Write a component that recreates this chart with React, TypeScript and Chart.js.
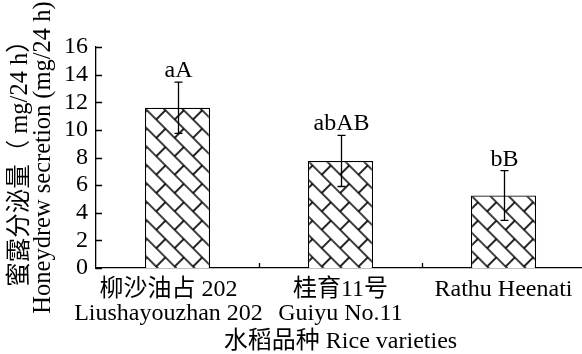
import React, { useEffect, useRef } from "react";
import { Chart, registerables } from "chart.js";

Chart.register(...registerables);

// ---- data ----
const categories: string[][] = [
  ["柳沙油占 202   ", "Liushayouzhan 202   "],
  ["桂育11号", "Guiyu No.11"],
  ["Rathu Heenati"],
];
const means: number[] = [11.6, 7.75, 5.25];
const errors: number[] = [1.85, 1.85, 1.8];
const letters: string[] = ["aA", "abAB", "bB"];
const yMin = 0;
const yMax = 16;
const yStep = 2;
const yTitle: string[] = ["蜜露分泌量（ mg/24 h）", "Honeydrew secretion (mg/24 h)"];
const xTitle = "水稻品种 Rice varieties";

const FONT = "'Liberation Serif', 'Times New Roman', 'Noto Sans CJK SC', serif";
const FS = 24;

function makePattern(ctx: CanvasRenderingContext2D): CanvasPattern | string {
  const L = 26;
  const H = 13;
  const tile = document.createElement("canvas");
  tile.width = L;
  tile.height = 2 * H;
  const t = tile.getContext("2d")!;
  t.fillStyle = "#fff";
  t.fillRect(0, 0, L, 2 * H);
  t.strokeStyle = "#000";
  t.lineWidth = 1.7;
  t.beginPath();
  // mortar lines
  t.moveTo(0, 0); t.lineTo(L, 0);
  t.moveTo(0, H); t.lineTo(L, H);
  t.moveTo(0, 2 * H); t.lineTo(L, 2 * H);
  // brick ends
  t.moveTo(0, 0); t.lineTo(0, H);
  t.moveTo(L, 0); t.lineTo(L, H);
  t.moveTo(L / 2, H); t.lineTo(L / 2, 2 * H);
  t.stroke();
  const p = ctx.createPattern(tile, "repeat");
  if (!p) return "#fff";
  try {
    p.setTransform(new DOMMatrix().rotate(45));
  } catch (e) {}
  return p;
}

const decorPlugin = {
  id: "decor",
  afterDatasetsDraw(chart: any) {
    const ctx = chart.ctx;
    const ys = chart.scales.y;
    const xs = chart.scales.x;
    const meta = chart.getDatasetMeta(0);
    ctx.save();
    ctx.strokeStyle = "#000";
    ctx.fillStyle = "#000";
    ctx.lineWidth = 1.3;
    meta.data.forEach((bar: any, i: number) => {
      const x = Math.round(bar.x) + 0.5;
      const top = ys.getPixelForValue(means[i] + errors[i]);
      const bot = ys.getPixelForValue(means[i] - errors[i]);
      ctx.beginPath();
      ctx.moveTo(x, top);
      ctx.lineTo(x, bot);
      ctx.moveTo(x - 4, top);
      ctx.lineTo(x + 4, top);
      ctx.moveTo(x - 4, bot);
      ctx.lineTo(x + 4, bot);
      ctx.stroke();
      ctx.font = `${FS}px ${FONT}`;
      ctx.textAlign = "center";
      ctx.textBaseline = "alphabetic";
      ctx.fillText(letters[i], x, top - 5);
    });
    // inward tick marks
    const area = chart.chartArea;
    ctx.lineWidth = 1.3;
    ctx.beginPath();
    ys.ticks.forEach((t: any) => {
      const py = Math.round(ys.getPixelForValue(t.value)) + 0.5;
      ctx.moveTo(area.left, py);
      ctx.lineTo(area.left + 6, py);
    });
    for (let i = 0; i < categories.length; i++) {
      const px = Math.round(xs.getPixelForValue(i + 0.5)) + 0.5;
      ctx.moveTo(px, area.bottom);
      ctx.lineTo(px, area.bottom - 5);
    }
    ctx.stroke();
    ctx.restore();
  },
};

export default function App() {
  const ref = useRef<HTMLCanvasElement | null>(null);
  useEffect(() => {
    document.body.style.margin = "0";
    const canvas = ref.current!;
    const ctx = canvas.getContext("2d")!;
    const pattern = makePattern(ctx);
    const chart = new Chart(ctx, {
      type: "bar",
      data: {
        labels: categories,
        datasets: [
          {
            data: means,
            backgroundColor: pattern as any,
            borderColor: "#000",
            borderWidth: 1.3,
            barPercentage: 0.4,
            categoryPercentage: 1,
          },
        ],
      },
      options: {
        responsive: false,
        animation: false,
        devicePixelRatio: 1,
        layout: { padding: { top: 47, right: 7, left: 0, bottom: 0 } },
        plugins: { legend: { display: false }, tooltip: { enabled: false } },
        scales: {
          x: {
            offset: true,
            grid: { display: false, drawTicks: false },
            border: { display: true, color: "#000", width: 1.3 },
            ticks: {
              color: "#000",
              padding: 10,
              maxRotation: 0,
              autoSkip: false,
              font: { family: FONT, size: FS, lineHeight: 1.0 },
            },
            title: {
              display: true,
              text: xTitle,
              color: "#000",
              padding: { top: 0, bottom: 0 },
              font: { family: FONT, size: FS, lineHeight: 1.0 },
            },
            afterFit: (s: any) => {
              s.height = 86;
            },
          },
          y: {
            min: yMin,
            max: yMax,
            grid: { display: false, drawTicks: false },
            border: { display: true, color: "#000", width: 1.3 },
            ticks: {
              stepSize: yStep,
              autoSkip: false,
              color: "#000",
              padding: 8,
              font: { family: FONT, size: FS },
            },
            title: {
              display: true,
              text: yTitle,
              color: "#000",
              padding: { top: 9, bottom: 0 },
              font: { family: FONT, size: 24.5, lineHeight: 0.94 },
            },
            afterFit: (s: any) => {
              s.width = 96;
            },
          },
        },
      },
      plugins: [decorPlugin],
    });
    return () => chart.destroy();
  }, []);
  return (
    <div style={{ position: "fixed", left: 0, top: 0, width: 582, height: 354, overflow: "hidden", background: "#fff" }}>
      <canvas ref={ref} width={592} height={354} style={{ display: "block" }} />
    </div>
  );
}
